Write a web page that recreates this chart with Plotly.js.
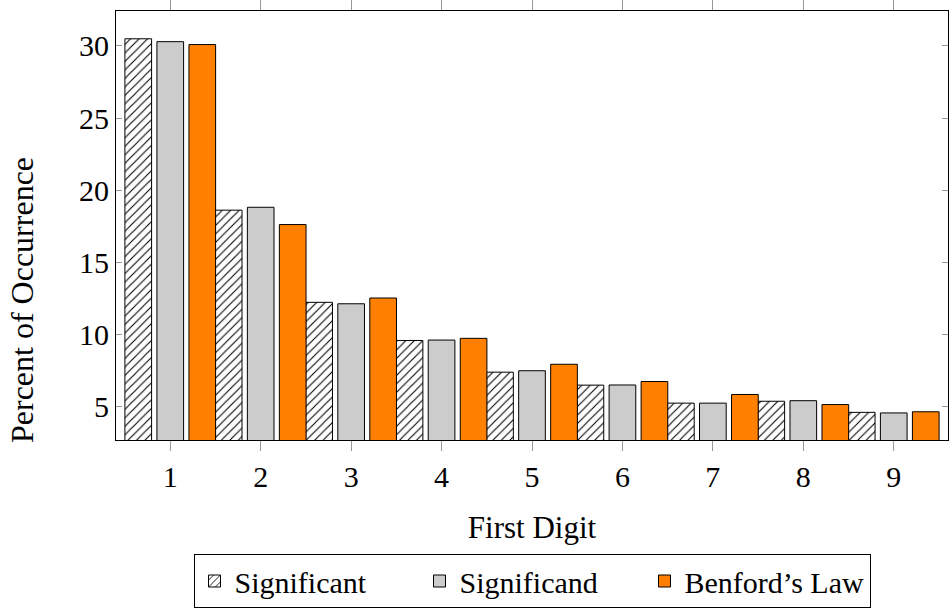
<!DOCTYPE html>
<html>
<head>
<meta charset="utf-8">
<script src="https://cdn.plot.ly/plotly-3.0.1.min.js"></script>
<style>html,body{margin:0;padding:0;background:#fff;}#chart{width:949px;height:611px;}</style>
</head>
<body>
<div id="chart"></div>
<script>
const digits = [1, 2, 3, 4, 5, 6, 7, 8, 9];
const significant = [30.5, 18.6, 12.2, 9.55, 7.35, 6.45, 5.2, 5.33, 4.56];
const significand = [30.3, 18.8, 12.1, 9.58, 7.45, 6.46, 5.2, 5.37, 4.52];
const benford = [30.1, 17.6, 12.5, 9.7, 7.9, 6.7, 5.8, 5.1, 4.6];
const seriesNames = ['Significant', 'Significand', 'Benford\u2019s Law'];
const yTicks = [5, 10, 15, 20, 25, 30];
const xTitle = 'First Digit';
const yTitle = 'Percent of Occurrence';

const FONT = 'Liberation Serif';
const FS = 30;
const W = 0.295, SHIFT = 0.354;

function barTrace(name, vals, k, marker) {
  return {
    type: 'bar', name: name, x: digits, y: vals,
    width: W, offset: k * SHIFT - W / 2,
    marker: Object.assign({line: {color: '#000', width: 1}}, marker),
    hoverinfo: 'skip'
  };
}

const data = [
  barTrace(seriesNames[0], significant, -1, {color: '#ffffff', pattern: {shape: '/', fgcolor: '#000', bgcolor: '#fff', size: 6, solidity: 0.18}}),
  barTrace(seriesNames[1], significand, 0, {color: '#cccccc'}),
  barTrace(seriesNames[2], benford, 1, {color: '#ff8000'})
];

const layout = {
  width: 949, height: 611,
  margin: {l: 116, r: 1, t: 11, b: 171, autoexpand: false},
  paper_bgcolor: '#fff', plot_bgcolor: '#fff',
  barmode: 'overlay',
  showlegend: true,
  font: {family: FONT, size: FS, color: '#000'},
  xaxis: {
    range: [0.4, 9.6], tickvals: digits, ticktext: digits.map(String),
    showgrid: false, zeroline: false,
    showline: true, linecolor: '#000', linewidth: 1, mirror: 'ticks',
    ticks: 'outside', ticklen: 10, tickcolor: '#999', tickwidth: 1,
    tickfont: {family: FONT, size: FS},
    title: {text: xTitle, font: {family: FONT, size: 31}, standoff: 24},
    automargin: false
  },
  yaxis: {
    range: [2.64, 32.43], tickvals: yTicks,
    showgrid: false, zeroline: false,
    showline: true, linecolor: '#000', linewidth: 1, mirror: 'ticks',
    ticks: 'inside', ticklen: 6, tickcolor: '#999', tickwidth: 1,
    tickfont: {family: FONT, size: FS},
    automargin: false
  },
  annotations: [{
    text: yTitle, textangle: -90,
    xref: 'paper', yref: 'paper',
    x: (22 - 116) / 832, y: (440 - 300) / 429,
    xanchor: 'center', yanchor: 'middle',
    showarrow: false, font: {family: FONT, size: 32}
  }],
  legend: {
    orientation: 'h', x: 0.5, xanchor: 'center', y: (440 - 554) / 429, yanchor: 'top',
    bordercolor: '#000', borderwidth: 1, bgcolor: '#fff',
    font: {family: FONT, size: 30},
    traceorder: 'normal', itemwidth: 30, entrywidth: 180
  }
};

Plotly.newPlot('chart', data, layout, {displayModeBar: false, staticPlot: true});
</script>
</body>
</html>
